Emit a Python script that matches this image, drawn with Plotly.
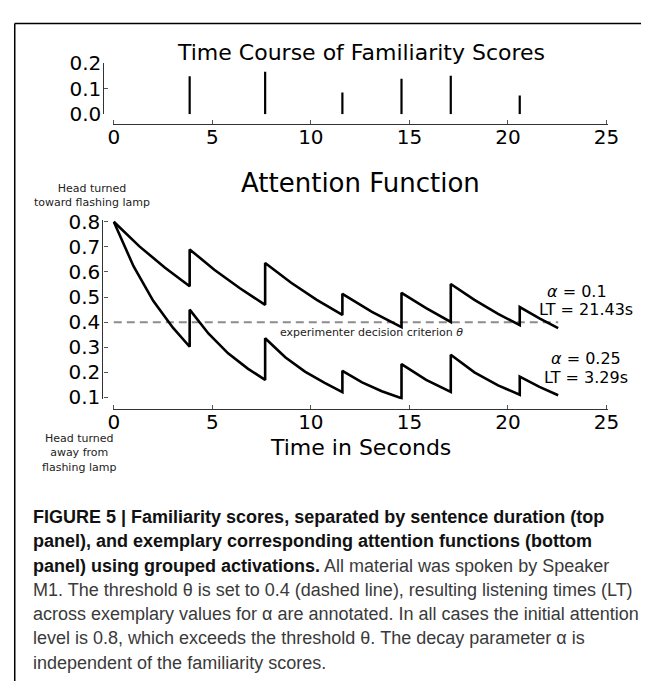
import plotly.graph_objects as go

W, H = 654, 693

# ---------------- data ----------------
event_times = [3.85, 7.68, 11.6, 14.6, 17.1, 20.6]
familiarity_scores = [0.148, 0.165, 0.085, 0.138, 0.150, 0.073]

theta = 0.4
end_time = 22.55

att_a010_t = [0, 1.3, 2.6, 3.85, 3.85, 5.1, 6.4, 7.68, 7.68, 9.0, 10.3, 11.6,
              11.6, 13.1, 14.6, 14.6, 15.85, 17.1, 17.1, 18.3, 19.5, 20.6,
              20.6, 21.6, 22.55]
att_a010_v = [0.800, 0.702, 0.617, 0.543, 0.690, 0.609, 0.535, 0.469, 0.636, 0.557,
              0.489, 0.429, 0.513, 0.441, 0.380, 0.517, 0.456, 0.401, 0.552, 0.489,
              0.433, 0.388, 0.460, 0.415, 0.376]

att_a025_t = [0, 1.0, 2.0, 3.0, 3.85, 3.85, 4.8, 5.8, 6.8, 7.68, 7.68, 8.7, 9.7,
              10.7, 11.6, 11.6, 12.6, 13.6, 14.6, 14.6, 15.85, 17.1, 17.1, 18.3,
              19.5, 20.6, 20.6, 21.6, 22.55]
att_a025_v = [0.800, 0.623, 0.485, 0.378, 0.302, 0.450, 0.355, 0.276, 0.215, 0.170,
              0.336, 0.260, 0.203, 0.158, 0.121, 0.206, 0.160, 0.125, 0.097, 0.233,
              0.170, 0.122, 0.270, 0.200, 0.148, 0.111, 0.183, 0.142, 0.109]

x_ticks = [0, 5, 10, 15, 20, 25]
top_y_ticks = [0.0, 0.1, 0.2]
bottom_y_ticks = [0.1, 0.2, 0.3, 0.4, 0.5, 0.6, 0.7, 0.8]

B = "<span style='color:#111111'><b>"
E = "</b></span>"
caption_lines = [
    B + "FIGURE 5 | Familiarity scores, separated by sentence duration (top" + E,
    B + "panel), and exemplary corresponding attention functions (bottom" + E,
    B + "panel) using grouped activations." + E + " All material was spoken by Speaker",
    "M1. The threshold θ is set to 0.4 (dashed line), resulting listening times (LT)",
    "across exemplary values for α are annotated. In all cases the initial attention",
    "level is 0.8, which exceeds the threshold θ. The decay parameter α is",
    "independent of the familiarity scores.",
]

# ---------------- helpers (layout only) ----------------
def px(x):
    return x / W

def py(y):
    return 1 - y / H

X0_PX, X25_PX = 111.7, 617.5
upx = (X25_PX - X0_PX) / 25.0
XR = [-0.06, 25.06]
x_dom = [px(X0_PX + XR[0] * upx), px(X0_PX + XR[1] * upx)]

top_dom = [py(106.0), py(52.7)]
bpx = (399.3 - 217.3) / 0.7
YR2 = [0.092, 0.808]
bot_dom = [py(399.3 + (0.1 - YR2[0]) * bpx), py(217.3 - (YR2[1] - 0.8) * bpx)]

FONT = "DejaVu Sans"
CAP_FONT = "Liberation Sans"

fig = go.Figure()

stick_x, stick_y = [], []
for t, v in zip(event_times, familiarity_scores):
    stick_x += [t, t, None]
    stick_y += [0, v, None]
fig.add_trace(go.Scatter(x=stick_x, y=stick_y, mode="lines",
                         line=dict(color="black", width=2.2),
                         xaxis="x", yaxis="y", hoverinfo="skip"))

fig.add_trace(go.Scatter(x=[0, end_time], y=[theta, theta], mode="lines",
                         line=dict(color="#8c8c8c", width=2, dash="8px,5px"),
                         xaxis="x2", yaxis="y2", hoverinfo="skip"))

for tt, vv in [(att_a010_t, att_a010_v), (att_a025_t, att_a025_v)]:
    fig.add_trace(go.Scatter(x=tt, y=vv, mode="lines",
                             line=dict(color="black", width=2.6),
                             xaxis="x2", yaxis="y2", hoverinfo="skip"))

axis_common = dict(showgrid=False, zeroline=False, showline=True,
                   linecolor="#333", linewidth=1.2, ticks="inside",
                   ticklen=4, tickwidth=1, tickcolor="#555",
                   tickfont=dict(family=FONT, size=20, color="black"),
                   fixedrange=True)

fig.update_layout(
    width=W, height=H, autosize=False,
    margin=dict(l=0, r=0, t=0, b=0),
    paper_bgcolor="white", plot_bgcolor="white",
    showlegend=False,
    xaxis=dict(domain=x_dom, range=XR, anchor="free", position=py(116),
               tickvals=x_ticks, ticklabelstandoff=-5, **axis_common),
    yaxis=dict(domain=top_dom, range=[0, 0.2], anchor="free", position=px(101),
               tickvals=top_y_ticks, tickformat=".1f", ticklabelstandoff=-2, **axis_common),
    xaxis2=dict(domain=x_dom, range=XR, anchor="free", position=py(411),
                tickvals=x_ticks, ticklabelstandoff=-5, **axis_common),
    yaxis2=dict(domain=bot_dom, range=YR2, anchor="free", position=px(100),
                tickvals=bottom_y_ticks, tickformat=".1f", ticklabelstandoff=-2, **axis_common),
)

ann = []
def text(x, y, s, size, xanchor="center", family=FONT, color="black"):
    ann.append(dict(x=x, y=y, xref="paper", yref="paper", text=s, showarrow=False,
                    xanchor=xanchor, yanchor="middle",
                    font=dict(family=family, size=size, color=color)))

text(px(365), py(42), "Time Course of Familiarity Scores", 22)
text(px(365), py(177), "Attention Function", 26)
text(px(365), py(451), "Time in Seconds", 22)
text(px(89), py(189.7), "Head turned<br>toward flashing lamp", 11, color="#222")
text(px(76), py(457), "Head turned<br>away from<br>flashing lamp", 11, color="#222")
text(px(587), py(289.3), "<i>α</i> = 0.1", 16)
text(px(596.7), py(307.7), "LT = 21.43s", 16)
text(px(596), py(359.3), "<i>α</i> = 0.25", 16)
text(px(596.7), py(379), "LT = 3.29s", 16)
text(px(376.7), py(331.7), "experimenter decision criterion <i>θ</i>", 11, color="#222")

cap_y0, cap_dy = 523.3, 25.1
for i, line in enumerate(caption_lines):
    text(px(27), py(cap_y0 + i * cap_dy), line, 18, xanchor="left",
         family=CAP_FONT, color="#3a3a3a")

fig.update_layout(annotations=ann)

fig.update_layout(shapes=[
    dict(type="line", xref="paper", yref="paper", x0=px(10), y0=py(12), x1=px(653), y1=py(12),
         line=dict(color="black", width=1.5)),
    dict(type="line", xref="paper", yref="paper", x0=px(10), y0=py(12), x1=px(10), y1=0,
         line=dict(color="black", width=1.5)),
])

fig.write_html("out.html", config={"displayModeBar": False},
               post_script="document.body.style.margin='0';document.body.style.overflow='hidden';")
